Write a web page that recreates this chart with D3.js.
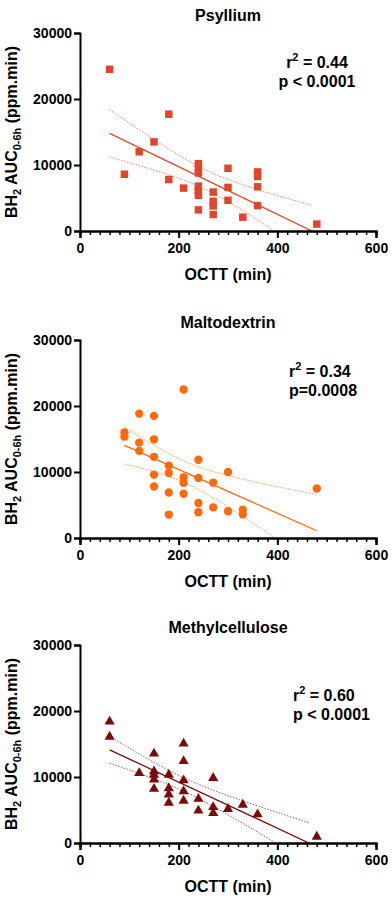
<!DOCTYPE html>
<html>
<head>
<meta charset="utf-8">
<script src="https://cdn.jsdelivr.net/npm/d3@7"></script>
<style>
body { margin: 0; background: #fff; }
text { font-family: Arial, "Liberation Sans", sans-serif; font-weight: bold; }
</style>
</head>
<body>
<div id="chart"></div>
<script>
// OCTT (min) and BH2 AUC values
var psylliumX = [60, 90, 120, 150, 180, 180, 210, 240, 240, 240, 240, 240, 240, 240, 270, 270, 270, 270, 300, 300, 300, 330, 360, 360, 360, 360, 480];
var psylliumY = [24500, 8600, 12000, 13500, 17700, 7800, 6500, 10200, 9500, 8800, 6800, 6100, 5400, 3200, 5900, 4500, 3800, 2500, 9500, 6600, 4650, 2100, 8950, 8250, 6700, 3850, 1050];

var maltoX = [90, 90, 120, 120, 120, 150, 150, 150, 150, 150, 180, 180, 180, 180, 210, 210, 210, 210, 240, 240, 240, 240, 270, 270, 300, 300, 330, 330, 480];
var maltoY = [16000, 15350, 18850, 14450, 13200, 18500, 14950, 12300, 9600, 7800, 10950, 9850, 6900, 3550, 22500, 9200, 8350, 6700, 11850, 9100, 5300, 3900, 8400, 4650, 10000, 4050, 4300, 3600, 7500];

var methylX = [60, 60, 120, 150, 150, 150, 150, 150, 180, 180, 180, 180, 210, 210, 210, 210, 210, 240, 240, 270, 270, 270, 300, 330, 360, 480];
var methylY = [18400, 16100, 10600, 13550, 10850, 10350, 9600, 8200, 10350, 8300, 7350, 6100, 15050, 12400, 9500, 7850, 6400, 6700, 4900, 9850, 5450, 4550, 5150, 5800, 4350, 950];

var panelTitles = ["Psyllium", "Maltodextrin", "Methylcellulose"];
var statLines = [["r", " = 0.44", "p < 0.0001"], ["r", " = 0.34", "p=0.0008"], ["r", " = 0.60", "p < 0.0001"]];
var xTicks = [0, 200, 400, 600];
var yTicks = [0, 10000, 20000, 30000];

var panels = [
  { x: psylliumX, y: psylliumY, color: "#e0462a", shape: "square", top: 33, statX: 317, statAnchor: "middle", statY: 68 },
  { x: maltoX, y: maltoY, color: "#ff6a0a", shape: "circle", top: 340, statX: 289, statAnchor: "start", statY: 377 },
  { x: methylX, y: methylY, color: "#7b0a0a", shape: "triangle", top: 645, statX: 293, statAnchor: "start", statY: 701 }
];

var W = 392, H = 905;
var left = 80, plotW = 296, plotH = 198;

var svg = d3.select("#chart").append("svg")
  .attr("width", W)
  .attr("height", H);

var x = d3.scaleLinear().domain([0, 600]).range([left, left + plotW]);

// t quantiles (two-sided 95%) for the df values we need
function tCrit(df) {
  var table = {23: 2.069, 24: 2.064, 25: 2.060, 26: 2.056, 27: 2.052};
  return table[df] || 2.06;
}

function fit(xs, ys) {
  var n = xs.length;
  var mx = d3.mean(xs), my = d3.mean(ys);
  var sxx = 0, sxy = 0;
  for (var i = 0; i < n; i++) {
    sxx += (xs[i] - mx) * (xs[i] - mx);
    sxy += (xs[i] - mx) * (ys[i] - my);
  }
  var b = sxy / sxx, a = my - b * mx;
  var sse = 0;
  for (var i = 0; i < n; i++) {
    var r = ys[i] - (a + b * xs[i]);
    sse += r * r;
  }
  var s = Math.sqrt(sse / (n - 2));
  var t = tCrit(n - 2);
  return {
    a: a, b: b,
    pred: function(v) { return a + b * v; },
    half: function(v) { return t * s * Math.sqrt(1 / n + (v - mx) * (v - mx) / sxx); }
  };
}

panels.forEach(function(p, k) {
  var y = d3.scaleLinear().domain([0, 30000]).range([p.top + plotH, p.top]);
  var g = svg.append("g");

  // title
  g.append("text")
    .attr("x", left + plotW / 2)
    .attr("y", p.top - 12)
    .attr("text-anchor", "middle")
    .attr("font-size", "16px")
    .text(panelTitles[k]);

  // y axis label
  var lab = g.append("text")
    .attr("transform", "translate(17," + (p.top + plotH / 2) + ") rotate(-90)")
    .attr("text-anchor", "middle")
    .attr("font-size", "16px");
  lab.append("tspan").text("BH");
  lab.append("tspan").attr("font-size", "11px").attr("dy", 4).text("2");
  lab.append("tspan").attr("dy", -4).text(" AUC");
  lab.append("tspan").attr("font-size", "11px").attr("dy", 4).text("0-6h");
  lab.append("tspan").attr("dy", -4).text(" (ppm.min)");

  // x label
  g.append("text")
    .attr("x", left + plotW / 2)
    .attr("y", p.top + plotH + 49)
    .attr("text-anchor", "middle")
    .attr("font-size", "16px")
    .text("OCTT (min)");

  // regression + confidence band
  var f = fit(p.x, p.y);
  var xmin = d3.min(p.x), xmax = d3.max(p.x);
  var xEnd = Math.min(xmax, -f.a / f.b);
  var steps = d3.range(0, 101).map(function(i) { return xmin + (xEnd - xmin) * i / 100; });

  var clipId = "clip" + k;
  svg.append("clipPath").attr("id", clipId)
    .append("rect")
    .attr("x", left).attr("y", p.top)
    .attr("width", plotW).attr("height", plotH);

  var line = d3.line()
    .x(function(d) { return x(d[0]); })
    .y(function(d) { return y(d[1]); });

  var band = g.append("g").attr("clip-path", "url(#" + clipId + ")");
  band.append("path")
    .datum(steps.map(function(v) { return [v, f.pred(v) + f.half(v)]; }))
    .attr("d", line)
    .attr("fill", "none")
    .attr("stroke", p.color)
    .attr("stroke-opacity", 0.7)
    .attr("stroke-width", 1)
    .attr("stroke-dasharray", "1.5,1.5");
  band.append("path")
    .datum(steps.map(function(v) { return [v, f.pred(v) - f.half(v)]; }))
    .attr("d", line)
    .attr("fill", "none")
    .attr("stroke", p.color)
    .attr("stroke-opacity", 0.7)
    .attr("stroke-width", 1)
    .attr("stroke-dasharray", "1.5,1.5");
  band.append("path")
    .datum([[xmin, f.pred(xmin)], [xEnd, f.pred(xEnd)]])
    .attr("d", line)
    .attr("fill", "none")
    .attr("stroke", p.color)
    .attr("stroke-width", 1.3);

  // markers
  var pts = p.x.map(function(v, i) { return [v, p.y[i]]; });
  var sym = p.shape == "square" ? d3.symbolSquare : (p.shape == "circle" ? d3.symbolCircle : d3.symbolTriangle);
  var size = p.shape == "square" ? 56 : (p.shape == "circle" ? 55 : 45);
  g.selectAll(".pt")
    .data(pts)
    .enter()
    .append("path")
    .attr("class", "pt")
    .attr("transform", function(d) { return "translate(" + x(d[0]) + "," + y(d[1]) + ")"; })
    .attr("d", d3.symbol().type(sym).size(size))
    .attr("fill", p.color);

  // axes
  var xAxis = g.append("g")
    .attr("transform", "translate(0," + (p.top + plotH) + ")");
  xAxis.call(d3.axisBottom(x).tickValues(d3.range(0, 601, 20)).tickSize(4).tickFormat(""));
  xAxis.selectAll(".tick line").attr("stroke-width", 1.5);
  var xMajor = g.append("g")
    .attr("transform", "translate(0," + (p.top + plotH) + ")")
    .call(d3.axisBottom(x).tickValues(xTicks).tickSize(7).tickPadding(5));
  xMajor.selectAll(".tick line").attr("stroke-width", 2);
  xMajor.selectAll("text").attr("font-size", "14px").attr("fill", "#000");
  g.selectAll(".domain").attr("stroke-width", 2).attr("stroke", "#000");

  var yAxis = g.append("g")
    .attr("transform", "translate(" + left + ",0)")
    .call(d3.axisLeft(y).tickValues(yTicks).tickSize(6).tickPadding(2).tickFormat(d3.format("d")));
  yAxis.selectAll(".tick line").attr("stroke-width", 2);
  yAxis.select(".domain").attr("stroke-width", 2);
  yAxis.selectAll("text").attr("font-size", "14px").attr("fill", "#000");

  // stats annotation
  var st = g.append("text")
    .attr("x", p.statX)
    .attr("y", p.statY)
    .attr("text-anchor", p.statAnchor)
    .attr("font-size", "16px");
  st.append("tspan").text(statLines[k][0]);
  st.append("tspan").attr("font-size", "11px").attr("dy", -7).text("2");
  st.append("tspan").attr("dy", 7).text(statLines[k][1]);
  g.append("text")
    .attr("x", p.statX)
    .attr("y", p.statY + 19)
    .attr("text-anchor", p.statAnchor)
    .attr("font-size", "16px")
    .text(statLines[k][2]);
});
</script>
</body>
</html>
